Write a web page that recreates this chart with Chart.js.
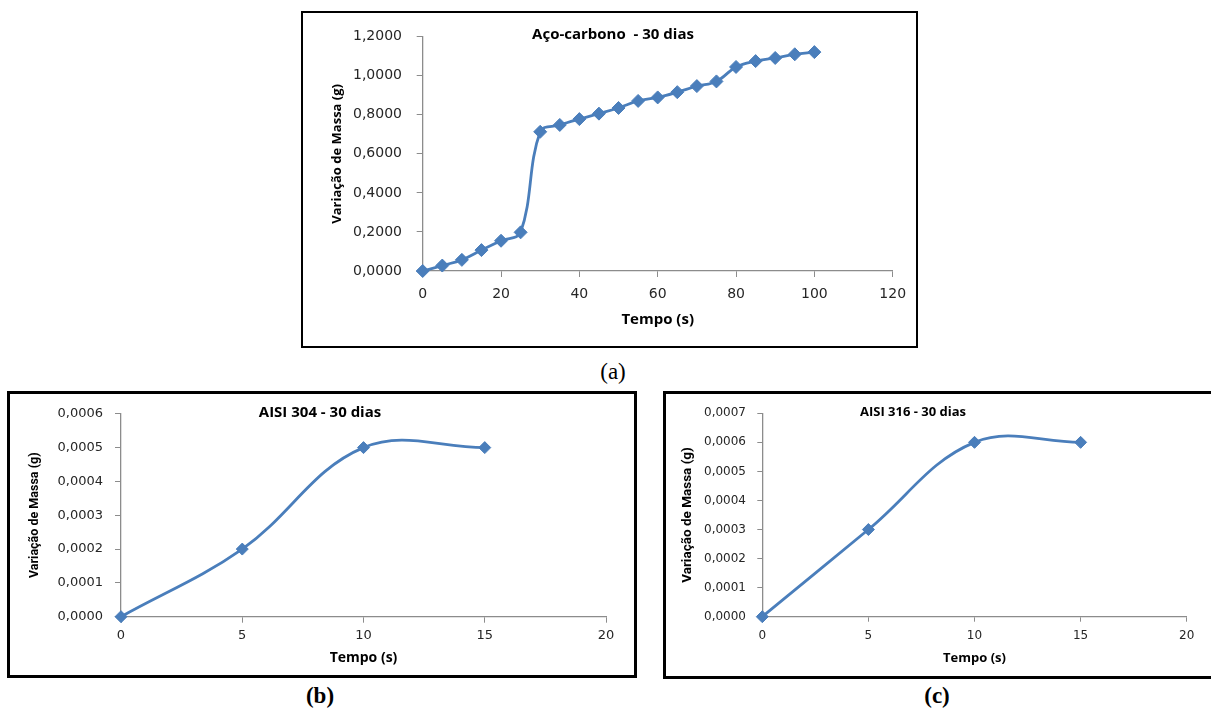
<!DOCTYPE html>
<html>
<head>
<meta charset="utf-8">
<script src="https://cdn.jsdelivr.net/npm/chart.js@4.4.1/dist/chart.umd.min.js"></script>
<style>
  html, body { margin: 0; padding: 0; background: #fff; width: 1211px; height: 711px; overflow: hidden; }
  .quadro { position: absolute; box-sizing: border-box; border: 2px solid #000; background: #fff; }
  .quadro canvas { display: block; }
  .legenda { position: absolute; font-family: 'Liberation Serif', 'Times New Roman', serif; font-size: 23px; color: #000; transform: translate(-50%, -50%); white-space: nowrap; }
</style>
</head>
<body>
<div class="quadro" style="left:301px;top:11px;width:617px;height:337px;"><canvas id="graficoA" width="613" height="333"></canvas></div>
<div class="quadro" style="left:7px;top:391px;width:630px;height:287px;border-width:3px;"><canvas id="graficoB" width="624" height="281"></canvas></div>
<div class="quadro" style="left:663px;top:391px;width:560px;height:288px;border-width:3px;"><canvas id="graficoC" width="554" height="282"></canvas></div>
<div class="legenda" style="left:613px;top:372px;">(a)</div>
<div class="legenda" style="left:320px;top:696px;font-weight:bold;">(b)</div>
<div class="legenda" style="left:937px;top:696px;font-weight:bold;">(c)</div>
<script>
// (a) aço-carbono
const tempoA = [0, 5, 10, 15, 20, 25, 30, 35, 40, 45, 50, 55, 60, 65, 70, 75, 80, 85, 90, 95, 100];
const massaA = [0.000, 0.028, 0.057, 0.107, 0.155, 0.198, 0.713, 0.748, 0.778, 0.806, 0.835, 0.871, 0.889, 0.916, 0.947, 0.971, 1.045, 1.075, 1.091, 1.110, 1.121];
// (b) AISI 304
const tempoB = [0, 5, 10, 15];
const massaB = [0.0000, 0.0002, 0.0005, 0.0005];
// (c) AISI 316
const tempoC = [0, 5, 10, 15];
const massaC = [0.0000, 0.0003, 0.0006, 0.0006];

const tituloA = 'Aço-carbono  - 30 dias';
const tituloB = 'AISI 304 - 30 dias';
const tituloC = 'AISI 316 - 30 dias';
const eixoY = 'Variação de Massa (g)';
const eixoX = 'Tempo (s)';

const azul = '#4A7EBB';
const cinza = '#8C8C8C';

Chart.defaults.font.family = 'DejaVu Sans';
Chart.defaults.color = '#262626';

// draws the title inside the plot, like Excel does
const tituloPlugin = {
  id: 'tituloInterno',
  afterDraw(chart, args, opts) {
    const ctx = chart.ctx;
    ctx.save();
    ctx.font = opts.font;
    ctx.fillStyle = '#000';
    ctx.textAlign = 'center';
    ctx.textBaseline = 'middle';
    ctx.fillText(opts.text, opts.x, opts.y);
    ctx.restore();
  }
};

function fmt(v) {
  return v.toFixed(4).replace('.', ',');
}

function montar(id, tempo, massa, c) {
  const pontos = tempo.map((t, i) => ({x: t, y: massa[i]}));
  return new Chart(document.getElementById(id), {
    type: 'line',
    data: {
      datasets: [{
        data: pontos,
        borderColor: azul,
        backgroundColor: azul,
        borderWidth: 2.8,
        tension: 0.38,
        pointStyle: 'rectRot',
        pointRadius: c.raio,
        pointBorderWidth: 1,
        clip: false
      }]
    },
    options: {
      responsive: false,
      animation: false,
      layout: {padding: {top: c.padTop, right: c.padRight, left: 0, bottom: 0}},
      plugins: {
        legend: {display: false},
        tooltip: {enabled: false},
        tituloInterno: c.titulo
      },
      scales: {
        x: {
          type: 'linear',
          min: 0, max: c.xMax,
          ticks: {stepSize: c.xStep, font: {size: c.tick}, padding: c.xPad, maxRotation: 0},
          grid: {drawOnChartArea: false, drawTicks: true, tickLength: c.tl, color: cinza},
          border: {color: cinza, width: 1.3},
          title: {display: true, text: eixoX, font: {family: 'Open Sans', weight: 'bold', size: c.xTitulo}, color: '#000', padding: {top: 0, bottom: c.xTitPad}},
          afterFit(s) { s.height = c.altX; }
        },
        y: {
          min: 0, max: c.yMax,
          ticks: {stepSize: c.yStep, font: {size: c.tick}, padding: c.yPad, callback: v => fmt(v)},
          grid: {drawOnChartArea: false, drawTicks: true, tickLength: c.tl, color: cinza},
          border: {color: cinza, width: 1.3},
          title: {display: true, text: eixoY, font: c.yFonte, color: '#000', padding: {top: c.yTitPad, bottom: 0}},
          afterFit(s) { s.width = c.largY; }
        }
      }
    },
    plugins: [tituloPlugin]
  });
}

montar('graficoA', tempoA, massaA, {
  xMax: 120, xStep: 20, yMax: 1.2, yStep: 0.2,
  padTop: 23.7, padRight: 23.3, largY: 119.7, altX: 75,
  tick: 14, tl: 6, xPad: 8.6, yPad: 14.7, raio: 6.5,
  xTitulo: 15, xTitPad: 17.7,
  yFonte: {family: 'Open Sans', weight: 'bold', size: 13}, yTitPad: 26.2,
  titulo: {text: tituloA, x: 310, y: 22, font: 'bold 15px "Open Sans"'}
});

montar('graficoB', tempoB, massaB, {
  xMax: 20, xStep: 5, yMax: 0.0006, yStep: 0.0001,
  padTop: 13.7, padRight: 28, largY: 111, altX: 58.3,
  tick: 13, tl: 6, xPad: 5.5, yPad: 12, raio: 6,
  xTitulo: 14, xTitPad: 8.6,
  yFonte: {family: 'Roboto', weight: 'bold', size: 12.5}, yTitPad: 17.5,
  titulo: {text: tituloB, x: 310, y: 19, font: 'bold 15px "Open Sans"'}
});

montar('graficoC', tempoC, massaC, {
  xMax: 20, xStep: 5, yMax: 0.0007, yStep: 0.0001,
  padTop: 19.3, padRight: 33.3, largY: 96.3, altX: 59.3,
  tick: 12, tl: 5, xPad: 7.1, yPad: 11.3, raio: 6,
  xTitulo: 13, xTitPad: 10.2,
  yFonte: {family: 'Roboto', weight: 'bold', size: 13.5}, yTitPad: 13.9,
  titulo: {text: tituloC, x: 247, y: 18, font: 'bold 13px "Open Sans"'}
});
</script>
</body>
</html>
